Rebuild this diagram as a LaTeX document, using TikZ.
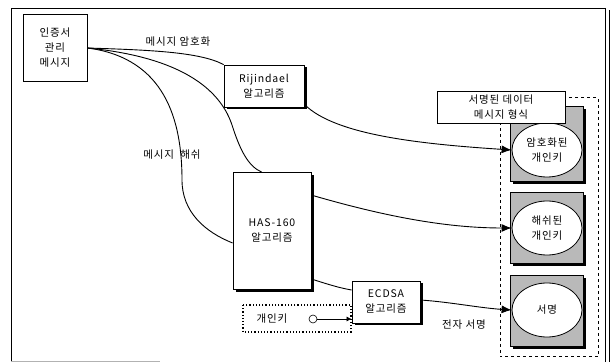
\documentclass[tikz,border=0pt]{standalone}
\usepackage{fontspec}
\setmainfont[LetterSpace=8]{Noto Sans CJK KR}
\usetikzlibrary{arrows.meta,shadows,calc,shapes.geometric}
\begin{document}
\begin{tikzpicture}[x=1pt,y=-1pt,
  every node/.style={font=\fontsize{10.5}{15}\selectfont, align=center, inner sep=1pt},
  box/.style={draw, line width=0.8pt, fill=white},
  sbox/.style={box, drop shadow={shadow xshift=2.5pt, shadow yshift=-2.5pt, fill=black, opacity=1}},
  conn/.style={line width=0.9pt},
  arr/.style={conn, -{Latex[length=10pt,width=8pt]}},
  tile/.style={draw, line width=0.5pt, fill=gray!55, drop shadow={shadow xshift=3pt, shadow yshift=-3pt, fill=black, opacity=1}},
  oval/.style={ellipse, draw, line width=0.8pt, fill=white, minimum width=70pt, minimum height=54pt, inner sep=0pt}
]
\useasboundingbox (0,0) rectangle (614,363);
% outer frame
\draw[line width=0.8pt] (11,362) -- (11,8) -- (606,8);
\draw[line width=0.8pt] (605,8) -- (605,362);
\draw[line width=0.8pt] (609,10) -- (609,362);
\draw[line width=0.5pt, gray!60] (11,361) -- (160,361);

% dashed container
\draw[dashed, line width=1pt] (500,98) rectangle (598,357);

% tiles
\draw[tile] (510,106) rectangle (583,181);
\draw[tile] (510,192) rectangle (583,263);
\draw[tile] (510,275) rectangle (583,346);
\node[oval] (e1) at (547,150) {암호화된\\개인키};
\node[oval] (e2) at (547,228) {해쉬된\\개인키};
\node[oval] (e3) at (547,310) {서명};

% format label box
\node[box, minimum width=128pt, minimum height=32pt] (fmt) at (501,107) {서명된 데이터\\메시지 형식};

% main boxes
\node[box, minimum width=64pt, minimum height=67pt] (cert) at (55,48) {인증서\\관리\\메시지};
\node[sbox, minimum width=80pt, minimum height=42pt] (rij) at (264,86) {Rijindael\\알고리즘};
\node[sbox, minimum width=78pt, minimum height=117pt] (has) at (272,231) {HAS-160\\알고리즘};
\node[sbox, minimum width=68pt, minimum height=42pt] (ecdsa) at (386,302) {ECDSA\\알고리즘};

% private key
\draw[dotted, line width=1.2pt] (243,305) rectangle (351,332);
\node (key) at (272,319) {개인키};
\node[circle, draw, line width=0.6pt, minimum size=8pt, inner sep=0pt] (kc) at (313,319) {};
\draw[line width=0.6pt, -{Latex[length=5pt,width=5pt]}] (kc.east) -- (ecdsa.west |- kc);

% connectors from cert
\draw[conn] (cert.east) .. controls (150,50) and (200,52) .. (rij.north west);
\node at (178,42) {메시지 암호화};
\draw[conn] (cert.east) .. controls (190,58) and (222,95) .. (232,125)
  .. controls (240,150) and (248,166) .. ([xshift=29pt]has.north west);
\draw[conn] (cert.east) .. controls (165,58) and (182,120) .. (182,180)
  .. controls (182,212) and (205,232) .. ([yshift=-12pt]has.west);
\node at (172,155) {메시지\ \ 해쉬};

% connectors to tiles
\draw[arr] ([yshift=3pt]rij.south east) .. controls (335,135) and (420,144) .. (e1.west);
\draw[arr] ([yshift=-23pt]has.north east) .. controls (390,218) and (450,228) .. (e2.west);
\draw[conn] ([yshift=-48pt]has.east) .. controls (330,285) and (340,288) .. ([yshift=12pt]ecdsa.west);
\draw[arr] ([yshift=2pt]ecdsa.east) .. controls (450,302) and (480,308) .. (e3.west);
\node at (464,325) {전자 서명};
\end{tikzpicture}
\end{document}
